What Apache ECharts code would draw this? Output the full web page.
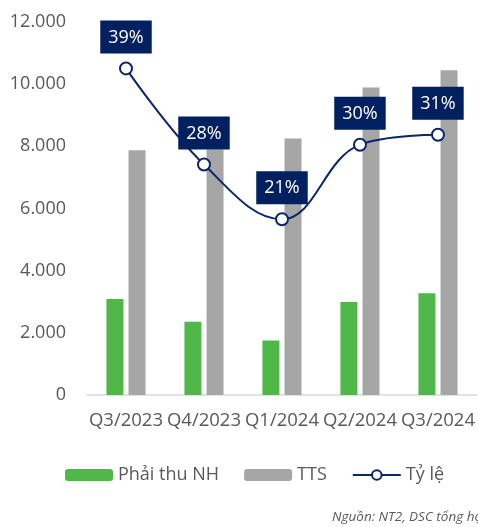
<!DOCTYPE html>
<html><head><meta charset="utf-8">
<script src="https://cdn.jsdelivr.net/npm/echarts@6/dist/echarts.min.js"></script>
<style>html,body{margin:0;padding:0;background:#fff;}#c{width:478px;height:527px;}</style>
</head><body><div id="c"></div>
<script>
var categories = ['Q3/2023','Q4/2023','Q1/2024','Q2/2024','Q3/2024'];
var phaiThu = [3090, 2355, 1750, 2990, 3270];
var tts = [7870, 7900, 8250, 9890, 10450];
var tyLe = [39.4, 27.8, 21.2, 30.2, 31.4];
var yTicks = [0, 2000, 4000, 6000, 8000, 10000, 12000];

var font = 'Open Sans';
var grey = '#595959';
var chart = echarts.init(document.getElementById('c'));
chart.setOption({
  animation: false,
  textStyle: {fontFamily: font},
  grid: {left: 87, right: 1, top: 22, bottom: 132, containLabel: false},
  legend: {
    left: 60, top: 461, itemWidth: 48, itemHeight: 12, itemGap: 25,
    textStyle: {fontFamily: font, fontSize: 18, color: grey},
    data: ['Phải thu NH', 'TTS', 'Tỷ lệ']
  },
  graphic: [{
    type: 'text', left: 332, top: 510,
    style: {text: 'Nguồn: NT2, DSC tổng hợp', font: 'italic 13.5px "Open Sans"', fill: grey}
  }],
  xAxis: {
    type: 'category', data: categories,
    axisLine: {lineStyle: {color: '#d9d9d9', width: 1.5}},
    axisTick: {show: false},
    axisLabel: {color: grey, fontSize: 18.5, margin: 16, interval: 0, fontFamily: font}
  },
  yAxis: [{
    type: 'value', min: yTicks[0], max: yTicks[yTicks.length - 1], interval: 2000,
    splitLine: {show: false}, axisLine: {show: false}, axisTick: {show: false},
    axisLabel: {color: grey, fontSize: 18, margin: 21, fontFamily: font,
      formatter: function (v) { return v.toString().replace(/\B(?=(\d{3})+(?!\d))/g, '.'); }}
  }, {
    type: 'value', min: 0, max: 45, show: false, splitLine: {show: false}
  }],
  series: [{
    name: 'Phải thu NH', type: 'bar', data: phaiThu, barWidth: 17, barGap: '30%',
    itemStyle: {color: '#50B848'}
  }, {
    name: 'TTS', type: 'bar', data: tts, barWidth: 17,
    itemStyle: {color: '#A6A6A6'}
  }, {
    name: 'Tỷ lệ', type: 'line', yAxisIndex: 1, data: tyLe, smooth: 0.4,
    symbol: 'circle', symbolSize: 12, z: 5,
    lineStyle: {color: '#0B2566', width: 2},
    itemStyle: {color: '#fff', borderColor: '#0B2566', borderWidth: 2},
    label: {
      show: true, position: 'top', distance: 8,
      formatter: function (p) { return Math.round(p.value) + '%'; },
      color: '#fff', fontSize: 18, fontFamily: font,
      backgroundColor: '#002060', padding: [8, 8, 7, 8]
    }
  }]
});
</script></body></html>
